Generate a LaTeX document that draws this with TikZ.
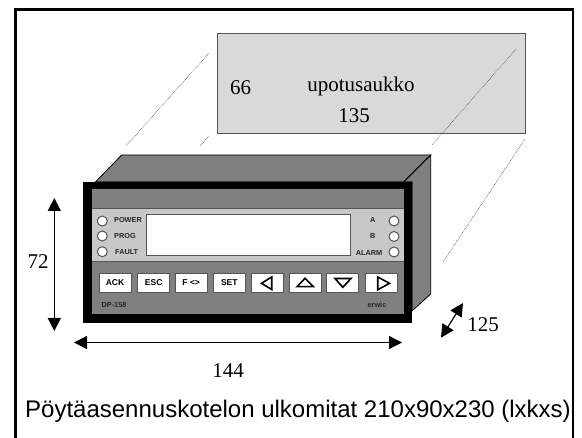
\documentclass[tikz,border=0pt]{standalone}
\usepackage{fontspec}
\setmainfont{Liberation Serif}
\setsansfont{Liberation Sans}
\usetikzlibrary{arrows.meta}
\definecolor{cc}{RGB}{217, 217, 217}
\definecolor{dd}{RGB}{128, 128, 128}
\definecolor{pp}{RGB}{200, 200, 200}
\definecolor{ee}{RGB}{85, 85, 85}
\tikzset{
	led/.style={circle, minimum size=10pt, inner sep=0pt, fill=white, line width=1pt, draw=ee},
	btn/.style={rectangle, minimum width=32pt, minimum height=18.5pt, inner sep=0pt, fill=white, line width=1pt, draw=ee, font=\sffamily\bfseries\fontsize{8.5}{8.5}\selectfont},
	tag/.style={inner sep=0pt, font=\sffamily\bfseries\fontsize{7.3}{7.3}\selectfont, text=black!85},
	num/.style={inner sep=0pt, font=\fontsize{21}{21}\selectfont},
	dim/.style={line width=1.2pt, color=black, {Triangle[length=13pt,width=13pt]}-{Triangle[length=13pt,width=13pt]}},
	guide/.style={line width=0.6pt, color=black!75, dash pattern=on 0.6pt off 1pt},
	icon/.style={line width=1.6pt, color=black, line join=miter}
}
\begin{document}
\begin{tikzpicture}
		[x=1pt,y=-1pt]
		\useasboundingbox (0, 0) rectangle (582, 438);
		\draw [line width=2.4pt, color=black] (15.5, 438) -- (15.5, 9.5) -- (573, 9.5) -- (573, 438);
		% upotusaukko
		\node (hole) [rectangle, minimum width=308pt, minimum height=99.5pt, inner sep=0pt, fill=cc, line width=0.7pt, draw=ee] at (371.3, 83.5) {};
		\node (holetext) [num] at (361, 86) {upotusaukko};
		\node (holeh) [num] at (240.7, 88) {66};
		\node (holew) [num] at (354, 116) {135};
		\coordinate (g1a) at (209, 53);
		\coordinate (g1b) at (126, 146);
		\coordinate (g2a) at (209, 136);
		\coordinate (g2b) at (200, 146);
		\coordinate (g3a) at (516, 49);
		\coordinate (g3b) at (432, 145);
		\coordinate (g4a) at (525, 139);
		\coordinate (g4b) at (443, 262);
		\draw [guide] (g1a) -- (g1b);
		\draw [guide] (g2a) -- (g2b);
		\draw [guide] (g3a) -- (g3b);
		\draw [guide] (g4a) -- (g4b);
		% housing
		\draw [fill=dd, line width=0.8pt, draw=black] (95.7, 181.7) -- (121.7, 155) -- (430.7, 155) -- (404, 181.7) -- cycle;
		\draw [fill=dd, line width=0.8pt, draw=black] (404, 181.7) -- (430.7, 155) -- (430.7, 294) -- (412.3, 310.7) -- (412.3, 181.7) -- cycle;
		\fill [black] (83.3, 181.7) rectangle (412.3, 322.7);
		\fill [dd] (92.3, 189.3) rectangle (404, 314);
		\fill [pp] (92.3, 208.5) rectangle (404, 261.5);
		\draw [ee, line width=0.7pt] (92.3, 208.5) -- (404, 208.5);
		\draw [ee, line width=0.7pt] (92.3, 261.5) -- (404, 261.5);
		\node (display) [rectangle, minimum width=204.5pt, minimum height=41.5pt, inner sep=0pt, fill=white, line width=1pt, draw=ee] at (248.3, 235.2) {};
		% leds
		\node (ledpower) [led] at (102.3, 221) {};
		\node (ledprog) [led] at (102.3, 236) {};
		\node (ledfault) [led] at (102.3, 251.7) {};
		\node (leda) [led] at (394, 221) {};
		\node (ledb) [led] at (394, 236.5) {};
		\node (ledalarm) [led] at (394, 252) {};
		\node (tagpower) [tag, anchor=west] at (114, 219.5) {POWER};
		\node (tagprog) [tag, anchor=west] at (114, 236) {PROG};
		\node (tagfault) [tag, anchor=west] at (115, 252.5) {FAULT};
		\node (taga) [tag] at (372.7, 219.5) {A};
		\node (tagb) [tag] at (372.7, 236) {B};
		\node (tagalarm) [tag] at (369, 252.5) {ALARM};
		% buttons
		\node (ack) [btn] at (115, 282.8) {ACK};
		\node (esc) [btn] at (153.7, 282.8) {ESC};
		\node (fkey) [btn] at (191.2, 282.8) {F <>};
		\node (set) [btn] at (229.3, 282.8) {SET};
		\node (bleft) [btn] at (267, 282.8) {};
		\node (bup) [btn] at (305.5, 282.8) {};
		\node (bdown) [btn] at (342.8, 282.8) {};
		\node (bright) [btn] at (381.3, 282.8) {};
		\draw [icon] (271.7, 277) -- (261.5, 283.3) -- (271.7, 289.5) -- cycle;
		\draw [icon] (305, 278.3) -- (297, 286.7) -- (313.5, 286.7) -- cycle;
		\draw [icon] (335, 278.5) -- (351, 278.5) -- (342.8, 287.3) -- cycle;
		\draw [icon] (377.7, 277) -- (389.5, 283.3) -- (377.7, 289.8) -- cycle;
		\node (model) [tag] at (114, 304.7) {DP-158};
		\node (brand) [tag] at (377, 304.5) {erwic};
		% dimensions
		\coordinate (ha) at (54.3, 198);
		\coordinate (hb) at (54.3, 331);
		\coordinate (wa) at (74, 342.5);
		\coordinate (wb) at (402, 342.5);
		\coordinate (da) at (463, 303);
		\coordinate (db) at (441, 337.7);
		\draw [dim] (ha) -- (hb);
		\draw [dim] (wa) -- (wb);
		\draw [dim] (da) -- (db);
		\node (h72) [num] at (38, 261.7) {72};
		\node (w144) [num] at (228, 371) {144};
		\node (d125) [num] at (483, 325) {125};
		\node (caption) [inner sep=0pt, font=\sffamily\fontsize{24}{24}\selectfont] at (298, 411) {Pöytäasennuskotelon ulkomitat 210x90x230 (lxkxs)};
\end{tikzpicture}
\end{document}
